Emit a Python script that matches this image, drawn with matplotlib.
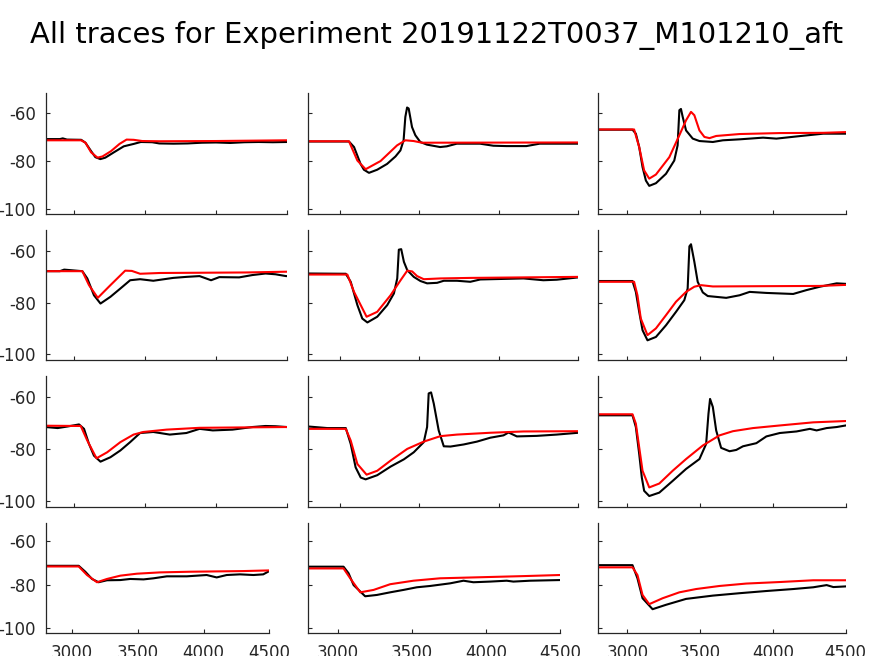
import matplotlib
matplotlib.use("Agg")
import matplotlib.pyplot as plt

plt.rcParams["axes.unicode_minus"] = False

TITLE = "All traces for Experiment 20191122T0037_M101210_aft"
XTICKS = [3000, 3500, 4000, 4500]
YTICKS = [-100, -80, -60]
XLIM = (2800, 4500)
YLIM = (-102.2, -52)

# ---- Row 1 ----
b11_x = [2800, 2900, 2920, 2950, 3050, 3080, 3120, 3150, 3185, 3220, 3280, 3350, 3420, 3470, 3550, 3600, 3700, 3800, 3900, 4000, 4100, 4200, 4300, 4400, 4500]
b11_y = [-71, -71, -70.7, -71.2, -71.3, -72.5, -76, -78.5, -79.3, -78.7, -76.5, -74, -73, -72.2, -72.3, -72.8, -72.9, -72.8, -72.5, -72.4, -72.6, -72.3, -72.2, -72.3, -72.2]
r11_x = [2800, 3050, 3080, 3120, 3165, 3200, 3260, 3320, 3370, 3420, 3480, 3600, 4000, 4500]
r11_y = [-71.5, -71.5, -72.5, -76.5, -78.7, -78.2, -76, -73, -71.2, -71.3, -71.8, -71.9, -71.8, -71.5]

b12_x = [2800, 3056, 3088, 3129, 3150, 3182, 3234, 3296, 3349, 3380, 3400, 3411, 3422, 3432, 3453, 3474, 3505, 3547, 3630, 3672, 3735, 3881, 3965, 4048, 4173, 4257, 4500]
b12_y = [-72, -72, -74.3, -81.3, -83.7, -85, -83.7, -81.3, -78.2, -75.7, -71.5, -61.8, -57.9, -58.3, -66, -69.4, -72.2, -73.3, -74.3, -74.0, -72.9, -72.9, -73.75, -73.9, -73.9, -72.9, -72.9]
r12_x = [2800, 3056, 3109, 3161, 3255, 3359, 3411, 3463, 3516, 4500]
r12_y = [-71.9, -71.9, -79.9, -83.5, -80.1, -73.6, -71.5, -71.8, -72.5, -72.4]

b13_x = [2800, 3035, 3058, 3081, 3104, 3127, 3150, 3196, 3265, 3322, 3345, 3357, 3368, 3380, 3403, 3449, 3495, 3587, 3656, 3771, 3932, 4024, 4162, 4346, 4500]
b13_y = [-67.1, -67.1, -68.75, -74.3, -82.6, -88.2, -90.4, -89.3, -85.4, -79.9, -73.6, -59, -58.5, -61.8, -67.4, -70.8, -71.8, -72.2, -71.5, -71.1, -70.4, -70.8, -69.9, -68.75, -68.75]
r13_x = [2800, 3046, 3081, 3115, 3150, 3196, 3288, 3357, 3403, 3437, 3460, 3495, 3529, 3564, 3610, 3771, 4047, 4346, 4500]
r13_y = [-67, -67, -74.3, -84, -87.4, -85.7, -78.5, -69.4, -63.2, -59.7, -61.1, -67.4, -70.1, -70.6, -69.7, -68.9, -68.5, -68.4, -68.1]

# ---- Row 2 ----
b21_x = [2800, 2900, 2930, 3058, 3093, 3140, 3186, 3256, 3326, 3395, 3465, 3558, 3698, 3791, 3884, 3965, 4023, 4163, 4256, 4349, 4419, 4493, 4500]
b21_y = [-67.9, -67.9, -67.3, -67.9, -70.7, -77.2, -80.4, -77.8, -74.6, -71.4, -71, -71.6, -70.5, -70.1, -69.8, -71.4, -70.2, -70.3, -69.4, -68.8, -69.1, -69.8, -69.8]
r21_x = [2800, 3058, 3105, 3167, 3256, 3360, 3407, 3465, 3605, 4209, 4500]
r21_y = [-67.9, -67.9, -73.3, -78.2, -73.3, -67.7, -67.8, -68.9, -68.6, -68.4, -68.1]

b22_x = [2800, 3036, 3067, 3109, 3140, 3172, 3234, 3297, 3339, 3360, 3370, 3385, 3402, 3423, 3464, 3506, 3548, 3611, 3653, 3736, 3820, 3883, 4155, 4280, 4364, 4500]
b22_y = [-68.8, -68.9, -72, -81, -86.2, -87.7, -85.5, -81, -76.5, -70.7, -59.6, -59.4, -64.3, -67.5, -70.1, -71.7, -72.6, -72.4, -71.6, -71.6, -72, -71.1, -70.7, -71.4, -71.2, -70.3]
r22_x = [2800, 3046, 3088, 3167, 3234, 3318, 3381, 3423, 3454, 3485, 3527, 3632, 3820, 4500]
r22_y = [-69.2, -69.2, -75.9, -85.5, -83.6, -77.2, -71.4, -67.7, -68.0, -69.8, -71, -70.7, -70.5, -70.1]

b23_x = [2800, 3035, 3058, 3081, 3104, 3138, 3196, 3265, 3334, 3391, 3414, 3426, 3437, 3460, 3483, 3518, 3552, 3679, 3771, 3840, 3955, 4047, 4139, 4231, 4323, 4438, 4500]
b23_y = [-71.7, -71.7, -75.9, -83.6, -90.7, -94.6, -93.3, -88.8, -83.6, -79.1, -74.6, -58.3, -57.5, -64.3, -72, -76.1, -77.5, -78.2, -77.2, -75.9, -76.3, -76.5, -76.7, -75.2, -73.9, -72.6, -72.8]
r23_x = [2800, 3046, 3069, 3092, 3138, 3196, 3265, 3334, 3403, 3460, 3506, 3587, 3909, 4323, 4500]
r23_y = [-72, -72, -77.2, -86.2, -92.6, -90, -84.9, -79.7, -75.9, -73.9, -73.3, -73.8, -73.7, -73.6, -73.2]

# ---- Row 3 ----
b31_x = [2800, 2884, 2953, 3035, 3070, 3105, 3140, 3186, 3256, 3326, 3395, 3465, 3558, 3674, 3791, 3884, 3977, 4116, 4256, 4349, 4419, 4500]
b31_y = [-71.6, -72, -71.4, -70.6, -72.3, -78.1, -82.6, -84.9, -83.2, -80.6, -77.4, -73.9, -73.5, -74.5, -73.9, -72.3, -72.9, -72.6, -71.6, -71.2, -71.3, -71.6]
r31_x = [2800, 3047, 3093, 3158, 3233, 3326, 3419, 3488, 3651, 3884, 4500]
r31_y = [-71.1, -71.2, -76.8, -83.6, -81.3, -77.4, -74.5, -73.5, -72.6, -71.9, -71.6]

b32_x = [2800, 2920, 3036, 3067, 3098, 3130, 3161, 3234, 3318, 3402, 3464, 3527, 3548, 3558, 3573, 3590, 3621, 3653, 3695, 3778, 3862, 3946, 4029, 4061, 4113, 4238, 4364, 4500]
b32_y = [-71.4, -72, -72, -78.1, -87.1, -91, -91.7, -90.1, -86.8, -84, -81.3, -77.4, -71.6, -58.7, -58.3, -62.6, -72.9, -79, -79.1, -78.3, -77.2, -75.7, -74.8, -73.7, -75.2, -75, -74.5, -73.8]
r32_x = [2800, 3036, 3067, 3109, 3167, 3234, 3318, 3423, 3527, 3632, 3736, 3946, 4155, 4500]
r32_y = [-72.3, -72.3, -76.8, -85.8, -89.9, -88.4, -84.5, -80, -77.2, -75.1, -74.5, -73.8, -73.3, -73.2]

b33_x = [2800, 3035, 3058, 3081, 3099, 3115, 3150, 3219, 3311, 3403, 3495, 3541, 3557, 3568, 3587, 3610, 3644, 3702, 3748, 3794, 3886, 3955, 4047, 4162, 4254, 4300, 4369, 4438, 4500]
b33_y = [-67.1, -67.1, -71.6, -81.9, -91, -96.1, -98.1, -96.8, -92.3, -87.7, -83.9, -78.1, -66.5, -60.8, -63.9, -72.9, -79.6, -80.9, -80.4, -79, -77.8, -75.2, -73.9, -73.3, -72.3, -72.9, -72, -71.6, -71]
r33_x = [2800, 3035, 3058, 3081, 3104, 3150, 3219, 3311, 3403, 3518, 3633, 3725, 3863, 4047, 4277, 4500]
r33_y = [-66.7, -66.7, -70.3, -79.4, -88.4, -94.8, -93.3, -88.4, -83.9, -78.7, -74.8, -73.2, -72, -71, -69.8, -69.3]

# ---- Row 4 ----
b41_x = [2800, 3051, 3101, 3152, 3202, 3266, 3367, 3443, 3544, 3620, 3721, 3873, 4024, 4100, 4176, 4277, 4379, 4454, 4500]
b41_y = [-71.4, -71.4, -74.1, -77.4, -78.9, -78, -77.9, -77.4, -77.6, -77.1, -76.2, -76.2, -75.6, -76.7, -75.6, -75.3, -75.6, -75.3, -73.8]
r41_x = [2800, 3051, 3114, 3190, 3266, 3367, 3493, 3670, 3898, 4303, 4500]
r41_y = [-71.7, -71.7, -75.6, -78.9, -77.4, -75.9, -75, -74.4, -74.1, -73.8, -73.5]

b42_x = [2800, 3038, 3072, 3106, 3184, 3263, 3353, 3443, 3533, 3623, 3758, 3848, 3915, 4028, 4140, 4185, 4298, 4500]
b42_y = [-71.8, -71.8, -74.8, -80.2, -85.3, -84.7, -83.5, -82.4, -81.2, -80.6, -79.4, -78.2, -78.9, -78.6, -78.2, -78.6, -78.2, -77.9]
r42_x = [2800, 3038, 3083, 3151, 3241, 3353, 3510, 3690, 3915, 4253, 4500]
r42_y = [-72.6, -72.6, -77.1, -83.5, -82.4, -79.8, -78.2, -77.1, -76.7, -76.1, -75.6]

b43_x = [2800, 3035, 3069, 3104, 3173, 3265, 3403, 3587, 3771, 3955, 4139, 4277, 4369, 4415, 4500]
b43_y = [-71.1, -71.1, -77.1, -86.2, -91.2, -89.2, -86.5, -85, -83.9, -82.9, -82, -81.2, -80.2, -81.1, -80.8]
r43_x = [2800, 3035, 3069, 3104, 3150, 3242, 3357, 3472, 3633, 3817, 4047, 4277, 4500]
r43_y = [-72.1, -72.1, -75.6, -84.7, -88.9, -86.2, -83.5, -82, -80.6, -79.5, -78.8, -78, -78]

panels = [
    [(b11_x, b11_y, r11_x, r11_y), (b12_x, b12_y, r12_x, r12_y), (b13_x, b13_y, r13_x, r13_y)],
    [(b21_x, b21_y, r21_x, r21_y), (b22_x, b22_y, r22_x, r22_y), (b23_x, b23_y, r23_x, r23_y)],
    [(b31_x, b31_y, r31_x, r31_y), (b32_x, b32_y, r32_x, r32_y), (b33_x, b33_y, r33_x, r33_y)],
    [(b41_x, b41_y, r41_x, r41_y), (b42_x, b42_y, r42_x, r42_y), (b43_x, b43_y, r43_x, r43_y)],
]

W, H = 874, 656
row_tb = [(93.3, 214.3), (230, 360), (376, 506.7), (523.3, 633.3)]
col_lr = [(45.7, 287.0), (308.3, 578.3), (598.3, 845.7)]
col_r_last = [269.3, 560.0, 845.7]

fig = plt.figure(figsize=(W / 100, H / 100), dpi=100)
fig.text(437 / W, 1 - 35 / H, TITLE, ha="center", va="center", fontsize=20.9, color="black")

TC = "#262626"
for i in range(4):
    t, b = row_tb[i]
    for j in range(3):
        l, r = col_lr[j]
        if i == 3:
            r = col_r_last[j]
        ax = fig.add_axes([l / W, 1 - b / H, (r - l) / W, (b - t) / H])
        bx, by, rx, ry = panels[i][j]
        ax.plot(bx, by, color="black", lw=1.5)
        ax.plot(rx, ry, color="red", lw=1.5)
        ax.set_xlim(*XLIM)
        ax.set_ylim(*YLIM)
        ax.set_xticks(XTICKS)
        ax.set_yticks(YTICKS)
        for s in ("top", "right"):
            ax.spines[s].set_visible(False)
        for s in ("left", "bottom"):
            ax.spines[s].set_color(TC)
            ax.spines[s].set_linewidth(0.9)
        ax.tick_params(direction="in", length=3, width=0.8, color=TC,
                       labelcolor=TC, labelsize=12)
        ax.tick_params(axis="y", pad=7)
        ax.tick_params(axis="x", pad=8)
        if j != 0:
            ax.set_yticklabels([])
        if i != 3:
            ax.set_xticklabels([])
        ax.patch.set_visible(False)

fig.savefig("out.png", dpi=100)
